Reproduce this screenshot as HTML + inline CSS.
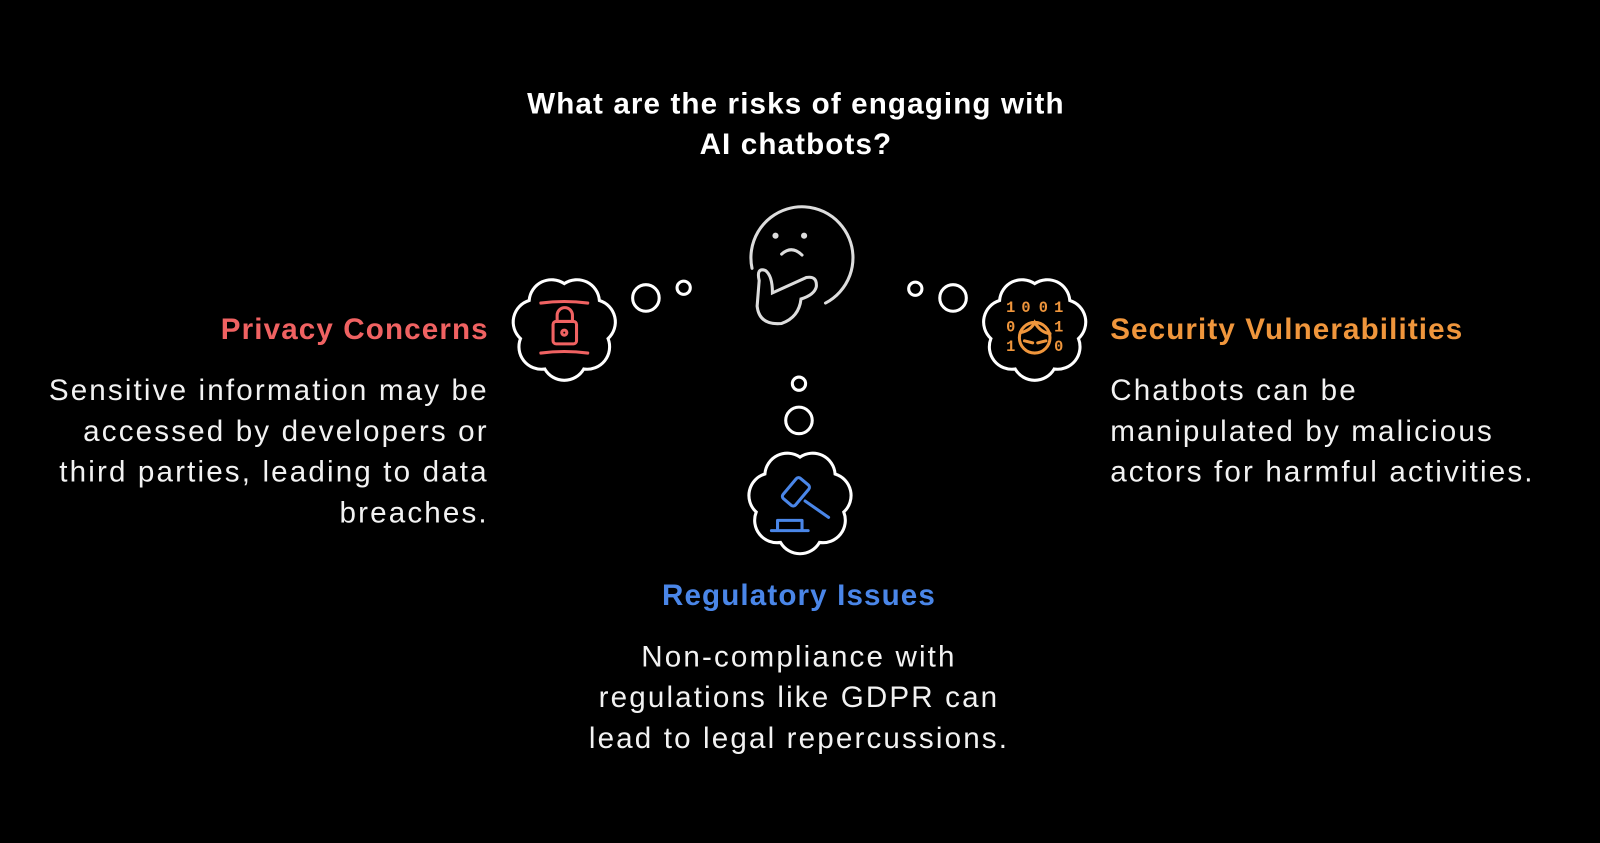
<!DOCTYPE html>
<html><head><meta charset="utf-8"><style>
html,body{margin:0;padding:0;background:#000;width:1600px;height:843px;overflow:hidden}
#w{position:absolute;left:0;top:0;width:1568px;height:826px;transform:scale(1.0204);transform-origin:0 0;font-family:"Liberation Sans",sans-serif}
.t{position:absolute;white-space:nowrap;line-height:40px}
.h{font-weight:bold;font-size:29px;letter-spacing:1.1px}
.b{font-size:29px;color:#f2f2f2;letter-spacing:2.1px}
</style></head><body><div id="w">
<svg width="1568" height="826" style="position:absolute;left:0;top:0">
<defs><path id="cl" d="M0,-44 A22,22 0 0 1 34.4,-27.5 A22,22 0 0 1 42.9,9.8 A22,22 0 0 1 19.1,39.6 A22,22 0 0 1 -19.1,39.6 A22,22 0 0 1 -42.9,9.8 A22,22 0 0 1 -34.4,-27.5 A22,22 0 0 1 0,-44 Z" fill="none" stroke="#fff" stroke-width="3"/></defs>
<g fill="none" stroke="#fff" stroke-width="3">
<circle cx="633" cy="292" r="13"/><circle cx="670" cy="282" r="6.5"/>
<circle cx="897" cy="283" r="6.5"/><circle cx="934" cy="292" r="13"/>
<circle cx="783" cy="376" r="6.5"/><circle cx="783" cy="412" r="13"/>
</g>
<use href="#cl" transform="translate(553,322)"/>
<use href="#cl" transform="translate(1014,322)"/>
<use href="#cl" transform="translate(784,492)"/>
<g fill="none" stroke="#ddd" stroke-width="3" stroke-linecap="round">
<path d="M737,263 A50,50 0 1 1 809,297"/>
<path d="M766,249 Q776,240 786,250"/>
<path d="M744,275 Q741,262 750,265 Q757,270 757,287 L790,272 Q801,270 800,281 Q798,289 785,293 Q783,311 766,317 Q744,319 742,300 Z"/>
</g>
<circle cx="760" cy="231" r="3" fill="#ddd"/><circle cx="788" cy="231" r="3" fill="#ddd"/>
<g stroke="#f06262" stroke-width="3" fill="none" stroke-linecap="round">
<path d="M530,297 Q553,294 576,297"/><path d="M530,346 Q553,343 576,346"/>
<rect x="542" y="315" width="23" height="22" rx="3"/><path d="M546,315 V309 A7,7 0 0 1 561,309 V315"/>
<circle cx="553" cy="326" r="2.5"/>
</g>
<g fill="#f0963c" font-family="Liberation Mono,monospace" font-weight="bold" font-size="15">
<text x="986" y="306">1</text><text x="1001" y="306">0</text><text x="1018" y="306">0</text><text x="1033" y="306">1</text>
<text x="986" y="325">0</text><text x="1033" y="325">1</text>
<text x="986" y="344">1</text><text x="1033" y="344">0</text>
</g>
<g stroke="#f0963c" stroke-width="3" fill="none" stroke-linecap="round">
<circle cx="1014" cy="331" r="15"/><path d="M1000,326 Q1010,324 1014,316 Q1020,326 1029,327"/>
<path d="M1004,334 L1012,336 M1017,336 L1025,334"/>
</g>
<g stroke="#4a86e8" stroke-width="3" fill="none" stroke-linejoin="round" stroke-linecap="round">
<rect x="772" y="469" width="16" height="26" rx="3" transform="rotate(40 780 482)"/>
<path d="M789,491 L812,507"/>
<path d="M762,510 V520 M762,510 H786 V520 M756,520 H792"/>
</g>
</svg>
<div class="t h" style="left:380px;width:800px;text-align:center;top:82px;color:#fff">What are the risks of engaging with<br>AI chatbots?</div>
<div class="t h" style="right:1089px;top:303px;color:#f06262">Privacy Concerns</div>
<div class="t b" style="right:1089px;top:363px;text-align:right">Sensitive information may be<br>accessed by developers or<br>third parties, leading to data<br>breaches.</div>
<div class="t h" style="left:1088px;top:303px;color:#f0963c">Security Vulnerabilities</div>
<div class="t b" style="left:1088px;top:363px">Chatbots can be<br>manipulated by malicious<br>actors for harmful activities.</div>
<div class="t h" style="left:483px;width:600px;text-align:center;top:564px;color:#4a86e8">Regulatory Issues</div>
<div class="t b" style="left:483px;width:600px;text-align:center;top:624px">Non-compliance with<br>regulations like GDPR can<br>lead to legal repercussions.</div>
</div></body></html>
